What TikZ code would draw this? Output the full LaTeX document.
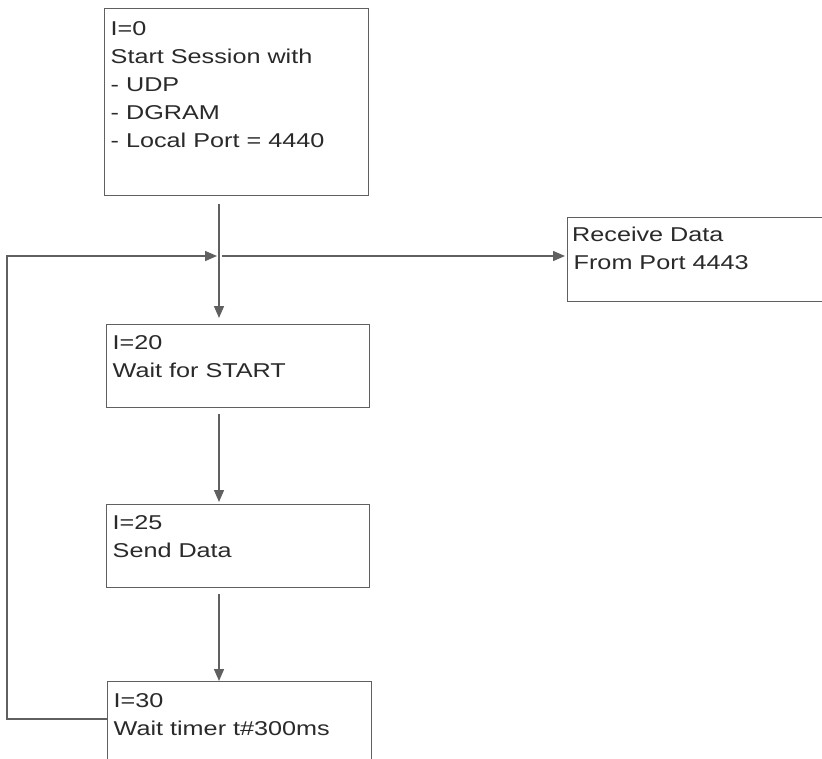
\documentclass[tikz,border=0pt]{standalone}
\usepackage{fontspec}
\setmainfont[FakeStretch=1.26]{Liberation Sans}
\usetikzlibrary{arrows.meta}
\definecolor{linec}{HTML}{606060}
\definecolor{textc}{HTML}{2A2A2A}
\newcommand{\boxcontent}[4]{\parbox[c][#2][t]{#1}{\vspace*{#3}\raggedright\leftskip=6pt\strut #4}}
\begin{document}
\begin{tikzpicture}[x=1pt,y=-1pt,
  stepbox/.style={draw=linec, line width=1.4pt, anchor=north west, inner sep=0pt, text=textc,
    font=\fontsize{20}{28}\selectfont},
  conn/.style={draw=linec, line width=1.4pt, -{Triangle[length=12pt,width=10pt]}}]
\useasboundingbox (0,0) rectangle (822,758);
\clip (0,0) rectangle (822,758);
\fill[white] (0,0) rectangle (822,758);
\node[stepbox] (A) at (104,8) {\boxcontent{264pt}{187pt}{7.4pt}{I=0\\Start Session with\\- UDP\\- DGRAM\\- Local Port = 4440}};
\node[stepbox] (B) at (106,324) {\boxcontent{263pt}{83pt}{5pt}{I=20\\Wait for START}};
\node[stepbox] (C) at (106,504) {\boxcontent{263pt}{83pt}{5pt}{I=25\\Send Data}};
\node[stepbox] (D) at (107,681) {\boxcontent{264pt}{120pt}{6pt}{I=30\\Wait timer t\#300ms}};
\node[stepbox] (R) at (567,217) {\boxcontent{300pt}{84pt}{4pt}{\hspace*{-1.5pt}Receive Data\\From Port 4443}};
\coordinate (j) at (219,256);
\coordinate (ls) at (107,719);
\draw[conn, shorten <=8pt, shorten >=6pt] (A.south -| j) -- (B.north -| j);
\draw[conn, shorten <=6pt, shorten >=2pt] (B.south -| j) -- (C.north -| j);
\draw[conn, shorten <=6pt, shorten >=0pt] (C.south -| j) -- (D.north -| j);
\draw[conn, shorten >=2pt] (ls) -- ++(-100,0) |- (j);
\draw[conn, shorten <=3pt, shorten >=2pt] (j) -- (R.west |- j);
\end{tikzpicture}
\end{document}
